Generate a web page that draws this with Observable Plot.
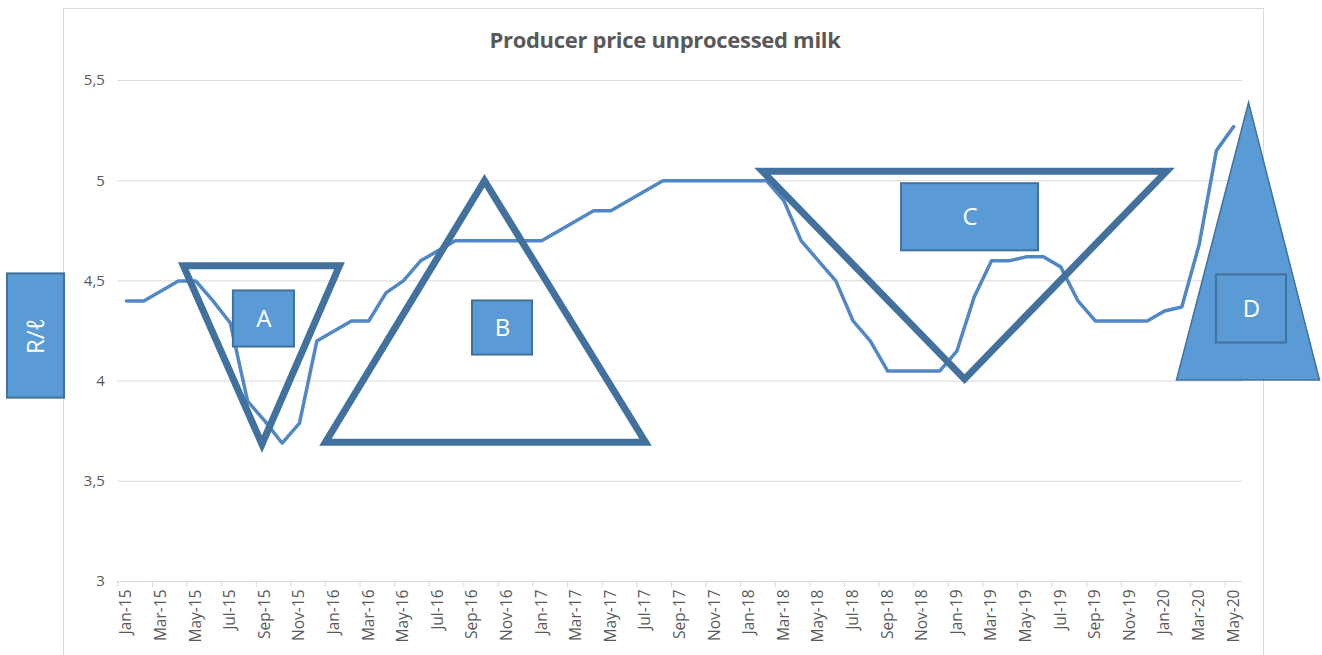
<!DOCTYPE html>
<html><head><meta charset="utf-8">
<script src="https://cdn.jsdelivr.net/npm/d3@7"></script>
<script src="https://cdn.jsdelivr.net/npm/@observablehq/plot@0.6"></script>
<style>
body{margin:0;background:#fff;font-family:"Open Sans",sans-serif;}
#wrap{position:relative;width:1322px;height:655px;overflow:hidden;background:#fff;}
#frame{position:absolute;left:63px;top:8px;width:1201px;height:700px;border:1px solid #d9d9d9;box-sizing:border-box;}
#title{position:absolute;left:415px;width:500px;top:25px;text-align:center;font-weight:bold;font-size:22px;line-height:28px;color:#595959;letter-spacing:-0.3px;}
#chart{position:absolute;left:0;top:60px;}
</style></head><body>
<div id="wrap"><div id="frame"></div><div id="title">Producer price unprocessed milk</div><div id="chart"></div></div>
<script>
const months = ["Jan-15","Feb-15","Mar-15","Apr-15","May-15","Jun-15","Jul-15","Aug-15","Sep-15","Oct-15","Nov-15","Dec-15",
"Jan-16","Feb-16","Mar-16","Apr-16","May-16","Jun-16","Jul-16","Aug-16","Sep-16","Oct-16","Nov-16","Dec-16",
"Jan-17","Feb-17","Mar-17","Apr-17","May-17","Jun-17","Jul-17","Aug-17","Sep-17","Oct-17","Nov-17","Dec-17",
"Jan-18","Feb-18","Mar-18","Apr-18","May-18","Jun-18","Jul-18","Aug-18","Sep-18","Oct-18","Nov-18","Dec-18",
"Jan-19","Feb-19","Mar-19","Apr-19","May-19","Jun-19","Jul-19","Aug-19","Sep-19","Oct-19","Nov-19","Dec-19",
"Jan-20","Feb-20","Mar-20","Apr-20","May-20"];
const price = [4.40,4.40,4.45,4.50,4.50,4.40,4.29,3.90,3.80,3.69,3.79,4.20,
4.25,4.30,4.30,4.44,4.50,4.60,4.65,4.70,4.70,4.70,4.70,4.70,
4.70,4.75,4.80,4.85,4.85,4.90,4.95,5.00,5.00,5.00,5.00,5.00,
5.00,5.00,4.90,4.70,4.60,4.50,4.30,4.20,4.05,4.05,4.05,4.05,
4.15,4.42,4.60,4.60,4.62,4.62,4.57,4.40,4.30,4.30,4.30,4.30,
4.35,4.37,4.68,5.15,5.27];
const yTicks = [3, 3.5, 4, 4.5, 5, 5.5];
const title = "Producer price unprocessed milk";
const unitLabel = "R/ℓ";

// annotation shapes, in data units (month index, price)
const triangleA = [[3.29, 4.575], [12.31, 4.575], [7.83, 3.685]];
const triangleB = [[20.69, 5.0], [11.5, 3.695], [30.0, 3.695]];
const triangleC = [[36.76, 5.0475], [60.12, 5.0475], [48.44, 4.01]];
const triangleD = [[64.86, 5.39], [60.69, 4.005], [68.96, 4.005]];
const boxLabels = ["A", "B", "C", "D"];
const boxX1 = [6.18, 20.0, 44.8, 63.0];
const boxX2 = [9.71, 23.47, 52.72, 67.05];
const boxY1 = [4.17, 4.13, 4.65, 4.19];
const boxY2 = [4.45, 4.40, 4.985, 4.53];
const unitBox = {x1: -6.88, x2: -3.58, y1: 3.915, y2: 4.535};

const idx = months.map((m, i) => i);
const labelIdx = idx.filter(i => i % 2 === 0);
const tickIdx = idx.filter(i => i % 2 === 0).map(i => i - 0.5);
const boxes = boxLabels.map((label, i) => ({label, x1: boxX1[i], x2: boxX2[i], y1: boxY1[i], y2: boxY2[i]}));

const outline = "#41719C", fillBlue = "#5B9BD5";
const tri = (data, opts) => Plot.line(data, {x: d => d[0], y: d => d[1], curve: "linear-closed", strokeLinejoin: "miter", strokeMiterlimit: 20, ...opts});

const chart = Plot.plot({
  width: 1322, height: 595,
  marginTop: 20, marginBottom: 74, marginLeft: 117.35, marginRight: 80.15,
  x: {type: "linear", domain: [-0.5, 64.5]},
  y: {domain: [3, 5.5]},
  style: {fontFamily: '"Open Sans", sans-serif', background: "transparent", overflow: "visible"},
  marks: [
    Plot.ruleY(yTicks, {stroke: "#d9d9d9", strokeWidth: 1}),
    Plot.axisY(yTicks, {tickSize: 0, tickPadding: 13, tickFormat: d => String(d).replace(".", ","), fontSize: 15, color: "#595959", label: null}),
    Plot.axisX(tickIdx, {tickSize: 6, tickFormat: () => "", color: "#d9d9d9", label: null}),
    Plot.axisX(labelIdx, {tickSize: 0, tickPadding: 8, tickRotate: -90, tickFormat: i => months[i], fontSize: 15.5, color: "#595959", label: null}),
    Plot.line(price, {x: (d, i) => i, y: d => d, stroke: "#5287C6", strokeWidth: 3.5, strokeLinejoin: "round", strokeLinecap: "round"}),
    tri(triangleA, {stroke: outline, strokeWidth: 7}),
    tri(triangleB, {stroke: outline, strokeWidth: 7}),
    tri(triangleC, {stroke: outline, strokeWidth: 7}),
    tri(triangleD, {stroke: outline, strokeWidth: 1.5, fill: fillBlue}),
    Plot.rect(boxes, {x1: "x1", x2: "x2", y1: "y1", y2: "y2", fill: fillBlue, stroke: outline, strokeWidth: 2}),
    Plot.text(boxes, {x: d => (d.x1 + d.x2) / 2, y: d => (d.y1 + d.y2) / 2, text: "label", fill: "white", fontSize: 24}),
    Plot.rect([unitBox], {x1: "x1", x2: "x2", y1: "y1", y2: "y2", fill: fillBlue, stroke: outline, strokeWidth: 2}),
    Plot.text([unitBox], {x: d => (d.x1 + d.x2) / 2, y: d => (d.y1 + d.y2) / 2, text: () => unitLabel, rotate: -90, fill: "white", fontSize: 24})
  ]
});
document.getElementById("chart").appendChild(chart);
</script>
</body></html>
